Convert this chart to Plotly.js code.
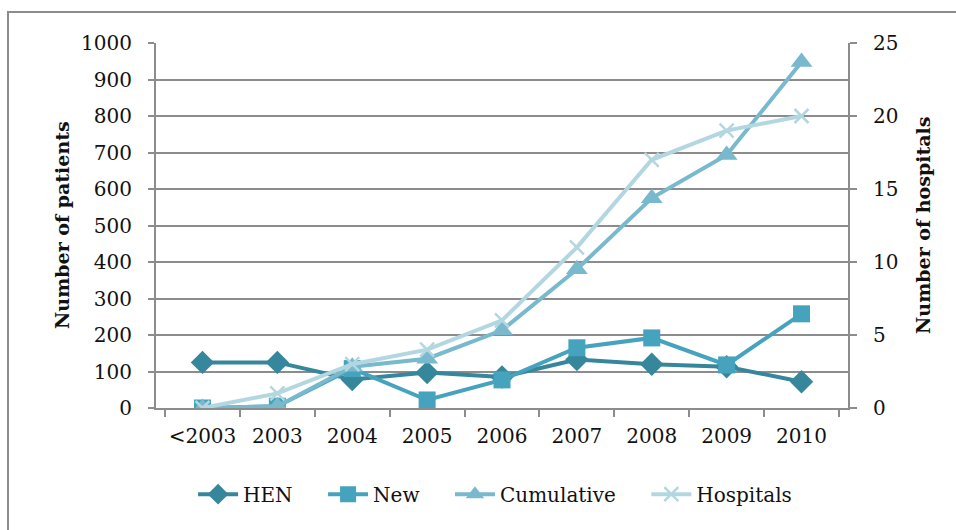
<!DOCTYPE html>
<html>
<head>
<meta charset="utf-8">
<script src="https://cdn.plot.ly/plotly-3.0.1.min.js"></script>
<style>html,body{margin:0;padding:0;background:#fff;}#chart{width:956px;height:530px;}</style>
</head>
<body>
<div id="chart"></div>
<script>
const categories = ["<2003","2003","2004","2005","2006","2007","2008","2009","2010"];
const seriesNames = ["HEN", "New", "Cumulative", "Hospitals"];
const henValues = [125, 125, 78, 97, 85, 133, 120, 113, 72];
const newValues = [0, 5, 108, 22, 77, 165, 192, 118, 258];
const cumulativeValues = [0, 5, 113, 135, 213, 380, 575, 693, 948];
const hospitalValues = [0, 1, 3, 4, 6, 11, 17, 19, 20];
const leftTicks = [0,100,200,300,400,500,600,700,800,900,1000];
const rightTicks = [0,5,10,15,20,25];

const FONT = "DejaVu Serif";
const GRID = "#8c8c8c";
const PAD = "\u00a0\u00a0\u00a0\u00a0";

const traces = [
  {x: categories, y: henValues, name: seriesNames[0] + PAD, type: "scatter", mode: "lines+markers",
   line: {color: "#36879c", width: 4}, marker: {symbol: "diamond", size: 18, color: "#36879c"}},
  {x: categories, y: newValues, name: seriesNames[1] + PAD, type: "scatter", mode: "lines+markers",
   line: {color: "#45a3bd", width: 4}, marker: {symbol: "square", size: 17, color: "#45a3bd"}},
  {x: categories, y: cumulativeValues, name: seriesNames[2] + PAD, type: "scatter", mode: "lines+markers",
   line: {color: "#79b9cd", width: 4}, marker: {symbol: "triangle-up", size: 19, color: "#79b9cd"}},
  {x: categories, y: hospitalValues, name: seriesNames[3], type: "scatter", mode: "lines+markers", yaxis: "y2",
   line: {color: "#b3d7e1", width: 4}, marker: {symbol: "x-thin", size: 14, line: {color: "#b3d7e1", width: 2.5}, color: "#b3d7e1"}}
];

const layout = {
  width: 956, height: 530,
  margin: {l: 156, r: 108, t: 43, b: 122},
  paper_bgcolor: "#ffffff", plot_bgcolor: "#ffffff",
  font: {family: FONT, size: 20, color: "#111"},
  showlegend: true,
  legend: {orientation: "h", x: 0.49, xanchor: "center", y: -0.236, yanchor: "middle",
           font: {family: FONT, size: 20, color: "#111"}, itemwidth: 40, tracegroupgap: 0},
  xaxis: {type: "category", tickvals: categories, ticktext: categories, tickangle: 0,
          showline: true, linecolor: GRID, linewidth: 2, showgrid: false,
          ticks: "outside", tickson: "boundaries", ticklen: 7, tickcolor: GRID, tickwidth: 2,
          ticklabelstandoff: 9, tickfont: {family: FONT, size: 20, color: "#111"}, fixedrange: true},
  yaxis: {range: [0, 1000], tickvals: leftTicks, showline: true, linecolor: GRID, linewidth: 2,
          showgrid: true, gridcolor: GRID, gridwidth: 2, zeroline: false,
          ticks: "outside", ticklen: 6, tickcolor: GRID, tickwidth: 2, ticklabelstandoff: 12,
          tickfont: {family: FONT, size: 20, color: "#111"}},
  yaxis2: {range: [0, 25], tickvals: rightTicks, overlaying: "y", side: "right",
           showline: true, linecolor: GRID, linewidth: 2, showgrid: false, zeroline: false,
           ticks: "outside", ticklen: 7, tickcolor: GRID, tickwidth: 2, ticklabelstandoff: 12,
           tickfont: {family: FONT, size: 20, color: "#111"}},
  annotations: [
    {text: "<b>Number of patients</b>", xref: "paper", yref: "paper", x: (62-156)/692, y: (408-225)/365,
     textangle: -90, showarrow: false, font: {family: FONT, size: 19, color: "#111"}, xanchor: "center", yanchor: "middle"},
    {text: "<b>Number of hospitals</b>", xref: "paper", yref: "paper", x: (923-156)/692, y: (408-226)/365,
     textangle: -90, showarrow: false, font: {family: FONT, size: 19, color: "#111"}, xanchor: "center", yanchor: "middle"}
  ],
  shapes: [
    {type: "rect", xref: "paper", yref: "paper", x0: (8-156)/692, x1: (975-156)/692,
     y0: (408-560)/365, y1: (408-12)/365, line: {color: "#8c8c8c", width: 2}, fillcolor: "rgba(0,0,0,0)", layer: "below"}
  ]
};

Plotly.newPlot("chart", traces, layout, {displayModeBar: false, staticPlot: true});
</script>
</body>
</html>
